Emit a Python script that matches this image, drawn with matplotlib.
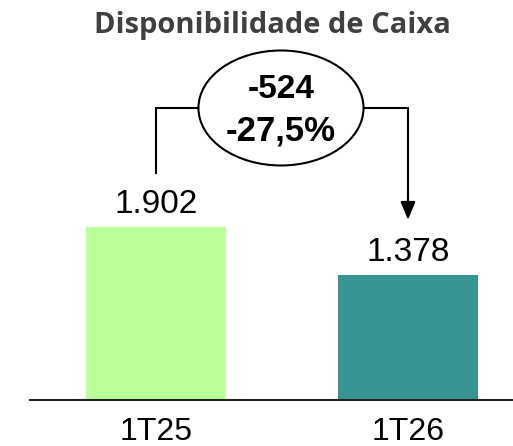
import matplotlib
matplotlib.use("Agg")
import matplotlib.pyplot as plt
from matplotlib.patches import Ellipse

categories = ["1T25", "1T26"]
values = [1902, 1378]
value_labels = ["1.902", "1.378"]
delta_label = "-524"
pct_label = "-27,5%"
title = "Disponibilidade de Caixa"
colors = ["#BBFF99", "#379691"]

W, H = 513, 446
fig = plt.figure(figsize=(W / 100, H / 100), dpi=100)
ax = fig.add_axes([30 / W, 46 / H, 483 / W, 400 / H])
x = [0, 1]
ax.bar(x, values, width=0.556, color=colors, zorder=2)
ax.set_xlim(-0.5, 1.4167)
ax.set_ylim(0, 4397)
for s in ["top", "right", "left"]:
    ax.spines[s].set_visible(False)
ax.spines["bottom"].set_linewidth(1.5)
ax.spines["bottom"].set_color("#222222")
ax.set_yticks([])
ax.set_xticks(x)
ax.set_xticklabels(categories, fontsize=23, family="Liberation Sans")
ax.tick_params(axis="x", length=0, pad=12)

for xi, v, lab in zip(x, values, value_labels):
    ax.text(xi, v + 154, lab, ha="center", va="baseline", fontsize=24, family="Liberation Sans")

# bracket
ey = 3210
ex = 0.496
ew, eh = 0.655, 1264
ax.plot([0, 0, ex - ew / 2], [2496, ey, ey], color="black", lw=1.5, solid_joinstyle="miter")
ax.plot([ex + ew / 2, 1.0, 1.0], [ey, ey, 2100], color="black", lw=1.5, solid_joinstyle="miter")
ax.annotate("", xy=(1.0, 1979), xytext=(1.0, 2300),
            arrowprops=dict(arrowstyle="-|>,head_length=1.1,head_width=0.45", color="black", lw=1.5,
                            shrinkA=0, shrinkB=0))
ax.add_patch(Ellipse((ex, ey), ew, eh, facecolor="white", edgecolor="black", lw=1.5, zorder=3))
ax.text(ex, 3320, delta_label, ha="center", va="baseline", fontsize=24, fontweight="bold",
        family="Liberation Sans", zorder=4)
ax.text(ex, 2858, pct_label, ha="center", va="baseline", fontsize=25, fontweight="bold",
        family="Liberation Sans", zorder=4)

fig.text(272 / W, 1 - 25 / H, title, ha="center", va="center", fontsize=21, fontweight="bold",
         color="#404040", family="Open Sans")

fig.savefig("out.png", dpi=100)
